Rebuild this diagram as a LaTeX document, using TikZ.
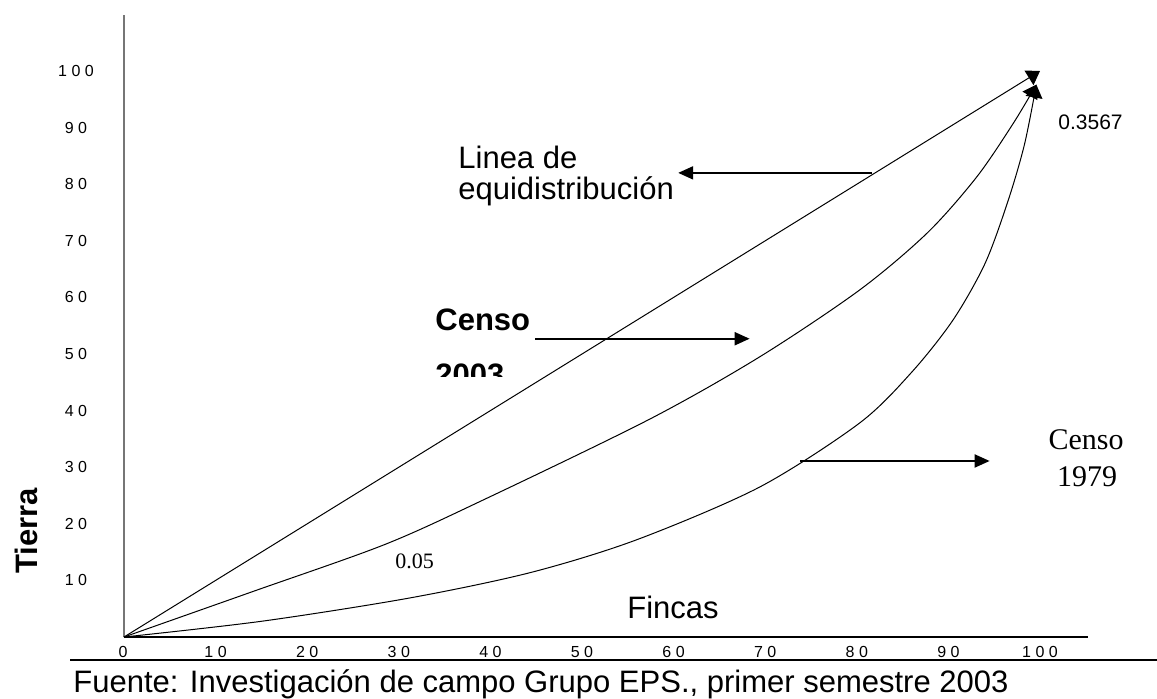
\documentclass[tikz,border=0pt]{standalone}
\usepackage{fontspec}
\setmainfont{Liberation Sans}
\newfontfamily\romana{Liberation Serif}
\usetikzlibrary{arrows.meta, positioning}
\definecolor{ejegris}{RGB}{118,118,118}

\begin{document}
\begin{tikzpicture}[x=0.5pt, y=-0.5pt,
        eje/.style={line width=0.65pt},
        curva/.style={line width=0.5pt, -{Triangle[length=6.5pt, width=8.5pt]}},
        flecha/.style={line width=1pt, -{Triangle[length=7.5pt, width=6.5pt]}},
        marca/.style={font=\fontsize{8}{9}\selectfont, inner sep=0pt},
        texto/.style={inner sep=0pt, anchor=base west, font=\fontsize{15.5}{18}\selectfont}]
            \useasboundingbox (0,0) rectangle (1157,698);

            \coordinate (O) at (124,637);
            \coordinate (Ytop) at (124,15);
            \coordinate (Xend) at (1088,637);
            \coordinate (R1) at (70,660);
            \coordinate (R2) at (1157,660);

            \draw [eje, ejegris] (O) -- (Ytop);
            \draw [eje] (O) -- (Xend);
            \draw [line width=1pt] (R1) -- (R2);

            \foreach \k/\t in {1/1 0, 2/2 0, 3/3 0, 4/4 0, 5/5 0, 6/6 0, 7/7 0, 8/8 0, 9/9 0, 10/1 0 0} {
                \node (ylab\k) [marca] at (76, 637-56.6*\k) {\t};
                \node (xlab\k) [marca] at (124+91.6*\k, 652) {\t};
            }
            \node (xlab0) [marca] at (123, 652) {0};

            \begin{scope}[shift={(124,637)}, x=4.58pt, y=2.83pt]
                \coordinate (P0) at (0,0);
                \coordinate (P100) at (100,100);
                \draw [curva] (P0) -- (P100);
                \draw [curva] plot [smooth] coordinates {(0,0) (14,8) (28.4,16.3) (39.2,24.2) (57.4,38.5) (69.4,49.5) (80.3,61.3) (87.7,71.4) (93.1,81.3) (97.1,90.8) (99.6,97.6)};
                \draw [curva] plot [smooth] coordinates {(0,0) (15.1,2.8) (31.2,6.9) (44.4,11.4) (56,17.2) (69.4,26.5) (80.3,37.8) (86,46.8) (90.5,56) (94,66) (96.5,77) (98.3,87) (99.6,97.6)};

                \coordinate (L1) at (81.7,82);
                \coordinate (L2) at (60.5,82);
                \coordinate (C1) at (44.9,52.7);
                \coordinate (C2) at (68.3,52.7);
                \coordinate (D1) at (73.8,31.1);
                \coordinate (D2) at (94.5,31.1);
                \draw [flecha] (L1) -- (L2);
                \draw [flecha] (C1) -- (C2);
                \draw [flecha] (D1) -- (D2);
            \end{scope}

            \node (lin1) [texto] at (458,168) {Linea de};
            \node (lin2) [texto] at (458,199) {equidistribución};

            \node (cen1) [texto, font=\bfseries\fontsize{15.5}{18}\selectfont] at (435,330) {Censo};
            \begin{scope}
                \clip (400,340) rectangle (600,376);
                \node (cen2) [texto, font=\bfseries\fontsize{15.5}{18}\selectfont] at (435,385) {2003};
            \end{scope}

            \node (cen3) [inner sep=0pt, anchor=base, font=\romana\fontsize{15}{18}\selectfont] at (1086,449) {Censo};
            \node (cen4) [inner sep=0pt, anchor=base, font=\romana\fontsize{15}{18}\selectfont] at (1087,486) {1979};

            \node (gini1) [texto, font=\fontsize{10.5}{12}\selectfont] at (1058,129) {0.3567};
            \node (gini2) [texto, font=\romana\fontsize{11}{13}\selectfont] at (395,568) {0.05};

            \node (fincas) [texto] at (627,618) {Fincas};
            \node (tierra) [inner sep=0pt, anchor=base, rotate=90, font=\bfseries\fontsize{15.5}{18}\selectfont] at (37,531) {Tierra};
            \node (fuente) [texto] at (73,692) {Fuente: Investigación de campo Grupo EPS., primer semestre 2003};
        \end{tikzpicture}
\end{document}
